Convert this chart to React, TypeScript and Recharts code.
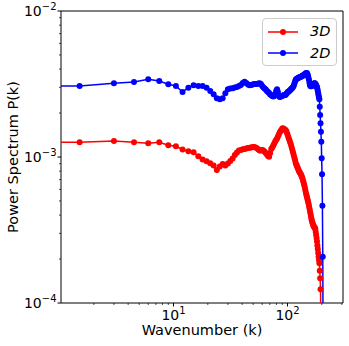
import { LineChart, Line, XAxis, YAxis, Legend, ReferenceArea } from 'recharts';

// wavenumber k (first entry sits left of the axis, the line enters from the edge)
const wavenumber = [
    0.5,
    1.5, 3, 4.5, 6, 7.5, 9, 10.5, 12, 13.5, 15,
    16.5, 18, 19.5, 21, 22.5, 24, 25.5, 27, 28.5, 30,
    31.5, 33, 34.5, 36, 37.5, 39, 40.5, 42, 43.5, 45,
    46.5, 48, 49.5, 51, 52.5, 54, 55.5, 57, 58.5, 60,
    61.5, 63, 64.5, 66, 67.5, 69, 70.5, 72, 73.5, 75,
    76.5, 78, 79.5, 81, 82.5, 84, 85.5, 87, 88.5, 90,
    91.5, 93, 94.5, 96, 97.5, 99, 100.5, 102, 103.5, 105,
    106.5, 108, 109.5, 111, 112.5, 114, 115.5, 117, 118.5, 120,
    121.5, 123, 124.5, 126, 127.5, 129, 130.5, 132, 133.5, 135,
    136.5, 138, 139.5, 141, 142.5, 144, 145.5, 147, 148.5, 150,
    151.5, 153, 154.5, 156, 157.5, 159, 160.5, 162, 163.5, 165,
    166.5, 168, 169.5, 171, 172.5, 174, 175.5, 177, 178.5, 180,
    181.5, 183, 184.5, 186, 187.5, 189, 190.5, 192, 193.5, 195,
    196.5, 198, 199.5, 201, 202.5, 204, 205.5,
];

const power3D = [
    1.261e-3,
    1.261e-3, 1.287e-3, 1.261e-3, 1.241e-3, 1.261e-3, 1.203e-3, 1.184e-3, 1.125e-3, 1.094e-3, 1.077e-3,
    1.011e-3, 0.961e-3, 0.934e-3, 0.905e-3, 0.875e-3, 0.815e-3, 0.861e-3, 0.896e-3, 0.875e-3, 0.903e-3,
    0.939e-3, 0.977e-3, 1.032e-3, 1.074e-3, 1.108e-3, 1.117e-3, 1.129e-3, 1.134e-3, 1.144e-3, 1.152e-3,
    1.156e-3, 1.162e-3, 1.171e-3, 1.171e-3, 1.162e-3, 1.147e-3, 1.125e-3, 1.108e-3, 1.108e-3, 1.117e-3,
    1.108e-3, 1.087e-3, 1.065e-3, 1.040e-3, 1.016e-3, 1.005e-3, 1.065e-3, 1.134e-3, 1.162e-3, 1.199e-3,
    1.237e-3, 1.277e-3, 1.307e-3, 1.339e-3, 1.382e-3, 1.426e-3, 1.472e-3, 1.507e-3, 1.531e-3, 1.568e-3,
    1.573e-3, 1.555e-3, 1.543e-3, 1.531e-3, 1.507e-3, 1.460e-3, 1.415e-3, 1.360e-3, 1.318e-3, 1.277e-3,
    1.237e-3, 1.190e-3, 1.144e-3, 1.099e-3, 1.057e-3, 1.016e-3, 0.977e-3, 0.939e-3, 0.903e-3, 0.882e-3,
    0.861e-3, 0.841e-3, 0.821e-3, 0.802e-3, 0.789e-3, 0.777e-3, 0.765e-3, 0.753e-3, 0.735e-3, 0.718e-3,
    0.696e-3, 0.674e-3, 0.653e-3, 0.633e-3, 0.608e-3, 0.585e-3, 0.562e-3, 0.545e-3, 0.528e-3, 0.512e-3,
    0.496e-3, 0.480e-3, 0.462e-3, 0.444e-3, 0.427e-3, 0.410e-3, 0.394e-3, 0.379e-3, 0.367e-3, 0.359e-3,
    0.350e-3, 0.342e-3, 0.337e-3, 0.333e-3, 0.329e-3, 0.326e-3, 0.321e-3, 0.306e-3, 0.292e-3, 0.279e-3,
    0.264e-3, 0.248e-3, 0.234e-3, 0.220e-3, 0.2075e-3, 0.197e-3, 0.187e-3, 0.166e-3, 0.148e-3, 0.124e-3,
    0.06e-3,
];

const power2D = [
    3.064e-3,
    3.064e-3, 3.197e-3, 3.263e-3, 3.405e-3, 3.315e-3, 3.147e-3, 3.064e-3, 2.788e-3, 2.983e-3, 3.098e-3,
    3.064e-3, 3.064e-3, 2.983e-3, 2.832e-3, 2.689e-3, 2.524e-3, 2.484e-3, 2.524e-3, 2.731e-3, 2.908e-3,
    2.945e-3, 2.954e-3, 2.992e-3, 3.016e-3, 3.064e-3, 3.113e-3, 3.212e-3, 3.279e-3, 3.212e-3, 3.137e-3,
    3.098e-3, 3.113e-3, 3.137e-3, 3.162e-3, 3.162e-3, 3.162e-3, 3.187e-3, 3.197e-3, 3.162e-3, 3.064e-3,
    2.992e-3, 2.945e-3, 2.899e-3, 2.832e-3, 2.788e-3, 2.744e-3, 2.680e-3, 2.659e-3, 2.617e-3, 2.597e-3,
    2.617e-3, 2.701e-3, 2.832e-3, 2.908e-3, 2.788e-3, 2.617e-3, 2.576e-3, 2.588e-3, 2.617e-3, 2.617e-3,
    2.638e-3, 2.659e-3, 2.659e-3, 2.659e-3, 2.701e-3, 2.744e-3, 2.788e-3, 2.801e-3, 2.832e-3, 2.853e-3,
    2.899e-3, 2.922e-3, 2.954e-3, 2.992e-3, 3.040e-3, 3.113e-3, 3.212e-3, 3.315e-3, 3.394e-3, 3.421e-3,
    3.449e-3, 3.459e-3, 3.476e-3, 3.503e-3, 3.515e-3, 3.531e-3, 3.548e-3, 3.559e-3, 3.576e-3, 3.587e-3,
    3.615e-3, 3.633e-3, 3.644e-3, 3.673e-3, 3.702e-3, 3.731e-3, 3.744e-3, 3.761e-3, 3.744e-3, 3.673e-3,
    3.587e-3, 3.476e-3, 3.368e-3, 3.212e-3, 3.113e-3, 3.064e-3, 3.049e-3, 3.049e-3, 3.064e-3, 3.088e-3,
    3.113e-3, 3.137e-3, 3.162e-3, 3.187e-3, 3.197e-3, 3.197e-3, 3.162e-3, 3.137e-3, 3.088e-3, 3.040e-3,
    3.016e-3, 2.922e-3, 2.832e-3, 2.731e-3, 2.638e-3, 2.556e-3, 2.484e-3, 2.211e-3, 1.940e-3, 1.702e-3,
    1.490e-3, 1.273e-3, 0.980e-3, 0.761e-3, 0.464e-3, 0.2075e-3, 0.05e-3,
];

const seriesNames = ['3D', '2D'];
const seriesColors = ['#ff0000', '#0000ff'];

const xDomain = [1.03, 307];
const yDomain = [1e-4, 1e-2];
const xTicks = [2, 3, 4, 5, 6, 7, 8, 9, 10, 20, 30, 40, 50, 60, 70, 80, 90, 100, 200, 300];
const xMajorTicks = [10, 100];
const xMajorExp = ['1', '2'];
const yTicks = [
    1e-4, 2e-4, 3e-4, 4e-4, 5e-4, 6e-4, 7e-4, 8e-4, 9e-4,
    1e-3, 2e-3, 3e-3, 4e-3, 5e-3, 6e-3, 7e-3, 8e-3, 9e-3, 1e-2,
];
const yMajorTicks = [1e-4, 1e-3, 1e-2];
const yMajorExp = ['\u22124', '\u22123', '\u22122'];

const FONT = '"DejaVu Sans", sans-serif';

const data = wavenumber.map((k, i) => ({
    k,
    p3d: power3D[i] ?? null,
    p2d: power2D[i] ?? null,
}));

function XTick({ x, y, payload }: any) {
    const i = xMajorTicks.indexOf(payload.value);
    const major = i >= 0;
    return (
        <g>
            <line x1={x} x2={x} y1={y} y2={y + (major ? 3.5 : 2)} stroke="#000" strokeWidth={major ? 1 : 0.7} />
            {major && (
                <text x={x} y={y + 17} textAnchor="middle" fontSize={14} fontFamily={FONT} fill="#000">
                    10<tspan dy={-6} fontSize={10}>{xMajorExp[i]}</tspan>
                </text>
            )}
        </g>
    );
}

function YTick({ x, y, payload }: any) {
    const i = yMajorTicks.indexOf(payload.value);
    const major = i >= 0;
    return (
        <g>
            <line x1={x - (major ? 3.5 : 2)} x2={x} y1={y} y2={y} stroke="#000" strokeWidth={major ? 1 : 0.7} />
            {major && (
                <text x={x - 4.5} y={y + 5} textAnchor="end" fontSize={14} fontFamily={FONT} fill="#000">
                    10<tspan dy={-6} fontSize={10}>{yMajorExp[i]}</tspan>
                </text>
            )}
        </g>
    );
}

function XTitle({ viewBox }: any) {
    const vb = viewBox || { x: 61, y: 303, width: 282 };
    return (
        <text x={vb.x + vb.width / 2} y={vb.y + 32} textAnchor="middle" fontSize={14.5} fontFamily={FONT} fill="#000">
            Wavenumber (k)
        </text>
    );
}

function YTitle({ viewBox }: any) {
    const vb = viewBox || { x: 0, y: 11, height: 292 };
    const cx = 13;
    const cy = vb.y + vb.height / 2;
    return (
        <text x={cx} y={cy} transform={`rotate(-90 ${cx} ${cy})`} textAnchor="middle" dominantBaseline="central"
            fontSize={14.5} fontFamily={FONT} fill="#000">
            Power Spectrum P(k)
        </text>
    );
}

const renderLegend = () => (
    <div style={{
        position: 'relative', width: 75, height: 48, boxSizing: 'border-box',
        border: '1px solid #cccccc', borderRadius: 4, background: 'rgba(255,255,255,0.8)',
        fontFamily: FONT,
    }}>
        {seriesNames.map((name, i) => (
            <div key={name} style={{
                position: 'absolute', left: 5, top: 4 + i * 21.6, height: 17,
                display: 'flex', alignItems: 'center',
            }}>
                <svg width={30} height={10} style={{ display: 'block' }}>
                    <line x1={0} y1={5} x2={30} y2={5} stroke={seriesColors[i]} strokeWidth={1.5} />
                    <circle cx={15} cy={5} r={3} fill={seriesColors[i]} />
                </svg>
                <span style={{ marginLeft: 12, fontSize: 14.5, fontStyle: 'italic', color: '#000', lineHeight: '17px' }}>
                    {name}
                </span>
            </div>
        ))}
    </div>
);

export default function App() {
    return (
        <div style={{ position: 'absolute', left: 0, top: 0, background: '#fff' }}>
            <LineChart width={349} height={346} data={data} margin={{ top: 11, right: 6, bottom: 0, left: 0 }}>
                <XAxis
                    dataKey="k"
                    type="number"
                    scale="log"
                    domain={xDomain}
                    allowDataOverflow
                    ticks={xTicks}
                    interval={0}
                    tick={<XTick />}
                    tickLine={false}
                    axisLine={false}
                    tickSize={0}
                    tickMargin={0}
                    height={43}
                    label={<XTitle />}
                />
                <YAxis
                    type="number"
                    scale="log"
                    domain={yDomain}
                    allowDataOverflow
                    ticks={yTicks}
                    interval={0}
                    tick={<YTick />}
                    tickLine={false}
                    axisLine={false}
                    tickSize={0}
                    tickMargin={0}
                    width={61}
                    label={<YTitle />}
                />
                <Line
                    type="linear"
                    dataKey="p3d"
                    name={seriesNames[0]}
                    stroke={seriesColors[0]}
                    strokeWidth={1.5}
                    dot={{ r: 3, fill: seriesColors[0], stroke: 'none' }}
                    activeDot={false}
                    isAnimationActive={false}
                />
                <Line
                    type="linear"
                    dataKey="p2d"
                    name={seriesNames[1]}
                    stroke={seriesColors[1]}
                    strokeWidth={1.5}
                    dot={{ r: 3, fill: seriesColors[1], stroke: 'none' }}
                    activeDot={false}
                    isAnimationActive={false}
                />
                <ReferenceArea
                    x1={xDomain[0]}
                    x2={xDomain[1]}
                    y1={yDomain[0]}
                    y2={yDomain[1]}
                    fill="none"
                    stroke="#000"
                    strokeWidth={1}
                    ifOverflow="visible"
                />
                <Legend
                    layout="vertical"
                    align="center"
                    verticalAlign="middle"
                    content={renderLegend}
                    wrapperStyle={{ left: 262, top: 18, width: 75, height: 48 }}
                />
            </LineChart>
        </div>
    );
}
